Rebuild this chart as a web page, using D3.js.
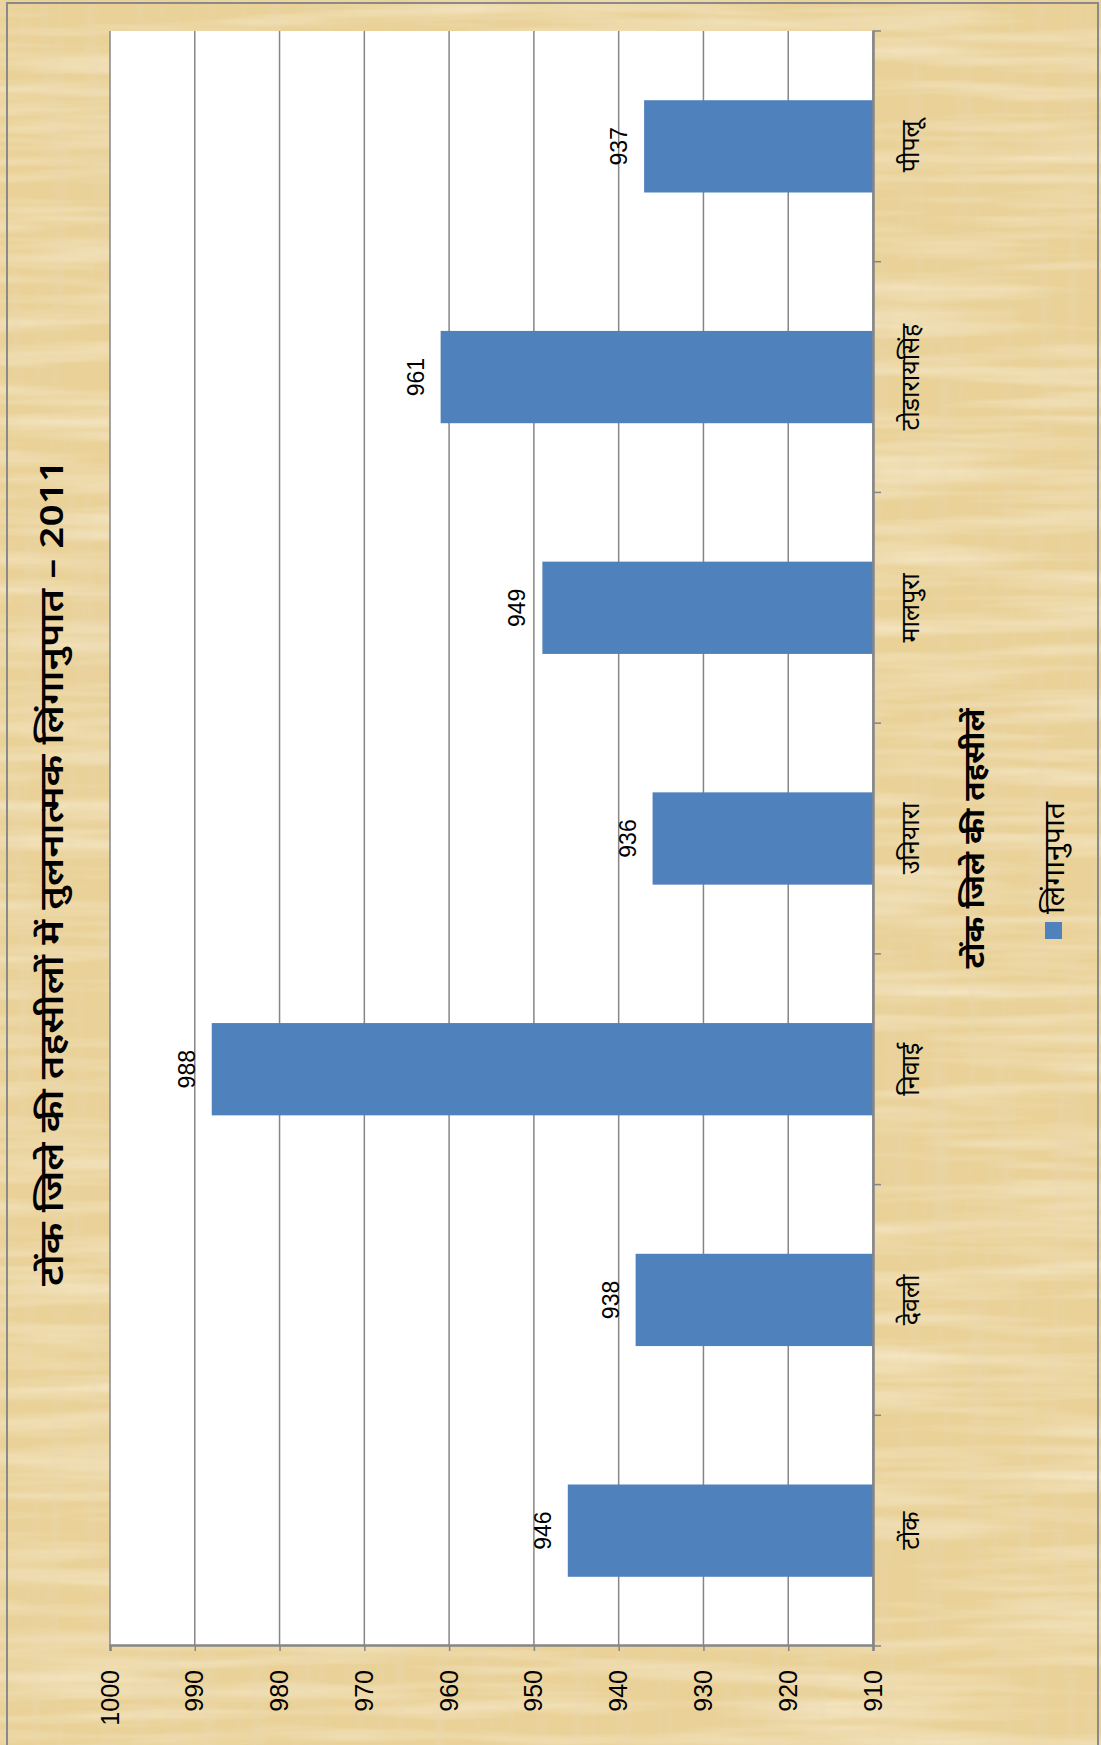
<!DOCTYPE html>
<html>
<head>
<meta charset="utf-8">
<script src="https://cdn.jsdelivr.net/npm/d3@7"></script>
<style>
html,body{margin:0;padding:0;background:#fff;}
svg{display:block;}
</style>
</head>
<body>
<div id="chart"></div>
<script>
const categories = ["टोंक", "देवली", "निवाई", "उनियारा", "मालपुरा", "टोडारायसिंह", "पीपलू"];
const values = [946, 938, 988, 936, 949, 961, 937];
const valueTicks = [910, 920, 930, 940, 950, 960, 970, 980, 990, 1000];
const titleText = "टोंक जिले की तहसीलों में तुलनात्मक लिंगानुपात – 2011";
const axisTitleText = "टोंक जिले की तहसीलें";
const seriesName = "लिंगानुपात";

const W = 1101, H = 1745;
const devFont = "'Noto Sans Devanagari','Lohit Devanagari','Noto Sans',sans-serif";
const numFont = "'Liberation Sans','Noto Sans',sans-serif";

const svg = d3.select("#chart").append("svg")
  .attr("width", W).attr("height", H);

const defs = svg.append("defs");
const f = defs.append("filter").attr("id", "papyrus")
  .attr("x", 0).attr("y", 0).attr("width", "100%").attr("height", "100%");
f.append("feTurbulence").attr("type", "fractalNoise")
  .attr("baseFrequency", "0.004 0.06").attr("numOctaves", 3).attr("seed", 4).attr("result", "n1");
f.append("feColorMatrix").attr("in", "n1").attr("type", "matrix")
  .attr("values", "0 0 0 0 0.98  0 0 0 0 0.90  0 0 0 0 0.72  0 0 0 1.1 -0.45").attr("result", "c1");
f.append("feTurbulence").attr("type", "fractalNoise")
  .attr("baseFrequency", "0.06 0.004").attr("numOctaves", 3).attr("seed", 9).attr("result", "n2");
f.append("feColorMatrix").attr("in", "n2").attr("type", "matrix")
  .attr("values", "0 0 0 0 0.80  0 0 0 0 0.68  0 0 0 0 0.45  0 0 0 0.9 -0.40").attr("result", "c2");
f.append("feMerge").selectAll("feMergeNode").data(["SourceGraphic", "c1", "c2"]).enter()
  .append("feMergeNode").attr("in", d => d);

// background
svg.append("rect").attr("x", 0).attr("y", 0).attr("width", W).attr("height", H)
  .attr("fill", "#e9d197").attr("filter", "url(#papyrus)");
svg.append("rect").attr("x", 7).attr("y", 3).attr("width", 1091).attr("height", H + 10)
  .attr("fill", "none").attr("stroke", "#8a8a8a").attr("stroke-width", 2);

// chart drawn in unrotated coordinates, then rotated 90° counter-clockwise
const g = svg.append("g").attr("transform", `translate(0,${H}) rotate(-90)`);

const plot = {x0: 99, x1: 1714, y0: 110, y1: 873};

const x = d3.scaleBand().domain(categories).range([plot.x0, plot.x1])
  .paddingInner(0.6).paddingOuter(0.3);
const y = d3.scaleLinear().domain([910, 1000]).range([plot.y1, plot.y0]);

g.append("rect").attr("x", plot.x0).attr("y", plot.y0)
  .attr("width", plot.x1 - plot.x0).attr("height", plot.y1 - plot.y0)
  .attr("fill", "#ffffff");

// gridlines
g.append("g").selectAll("line").data(valueTicks).enter().append("line")
  .attr("x1", plot.x0).attr("x2", plot.x1)
  .attr("y1", d => y(d)).attr("y2", d => y(d))
  .attr("stroke", "#868686").attr("stroke-width", 1.5);

// bars
g.append("g").selectAll("rect").data(values).enter().append("rect")
  .attr("x", (d, i) => x(categories[i]))
  .attr("width", x.bandwidth())
  .attr("y", d => y(d))
  .attr("height", d => y(910) - y(d))
  .attr("fill", "#4f81bd");

// data labels
g.append("g").selectAll("text").data(values).enter().append("text")
  .attr("x", (d, i) => x(categories[i]) + x.bandwidth() / 2)
  .attr("y", d => y(d) - 17)
  .attr("text-anchor", "middle")
  .attr("font-family", numFont).attr("font-size", 23)
  .attr("fill", "#000")
  .text(d => d);

// value axis (left in original orientation)
const yAxis = d3.axisLeft(y).tickValues(valueTicks).tickSize(5).tickPadding(19)
  .tickFormat(d3.format("d"));
const ya = g.append("g").attr("transform", `translate(${plot.x0},0)`).call(yAxis);
ya.select(".domain").attr("stroke", "#868686").attr("stroke-width", 2.5);
ya.selectAll(".tick line").attr("stroke", "#868686").attr("stroke-width", 1.5);
ya.selectAll(".tick text").attr("font-family", numFont).attr("font-size", 25).attr("fill", "#000");

// category axis (bottom in original orientation)
const xAxis = d3.axisBottom(x).tickSize(0).tickPadding(28);
const xa = g.append("g").attr("transform", `translate(0,${plot.y1})`).call(xAxis);
xa.select(".domain").attr("stroke", "#868686").attr("stroke-width", 2.5);
xa.selectAll(".tick text").attr("font-family", devFont).attr("font-size", 25).attr("fill", "#000");
// category boundary ticks
const bounds = d3.range(categories.length + 1).map(i => plot.x0 + i * x.step());
xa.append("g").selectAll("line").data(bounds).enter().append("line")
  .attr("x1", d => d).attr("x2", d => d).attr("y1", 0).attr("y2", 8)
  .attr("stroke", "#868686").attr("stroke-width", 1.5);

// title
g.append("text").attr("x", 872).attr("y", 63)
  .attr("text-anchor", "middle")
  .attr("font-family", devFont).attr("font-size", 33).attr("font-weight", 600)
  .attr("textLength", 826).attr("lengthAdjust", "spacingAndGlyphs")
  .attr("fill", "#000").text(titleText);

// axis title
g.append("text").attr("x", (plot.x0 + plot.x1) / 2).attr("y", 984)
  .attr("text-anchor", "middle")
  .attr("font-family", devFont).attr("font-size", 28).attr("font-weight", "bold")
  .attr("textLength", 260).attr("lengthAdjust", "spacingAndGlyphs")
  .attr("fill", "#000").text(axisTitleText);

// legend
g.append("rect").attr("x", 806).attr("y", 1045).attr("width", 17).attr("height", 17)
  .attr("fill", "#4f81bd");
g.append("text").attr("x", 831).attr("y", 1064)
  .attr("font-family", devFont).attr("font-size", 28)
  .attr("textLength", 112).attr("lengthAdjust", "spacingAndGlyphs")
  .attr("fill", "#000").text(seriesName);
</script>
</body>
</html>
